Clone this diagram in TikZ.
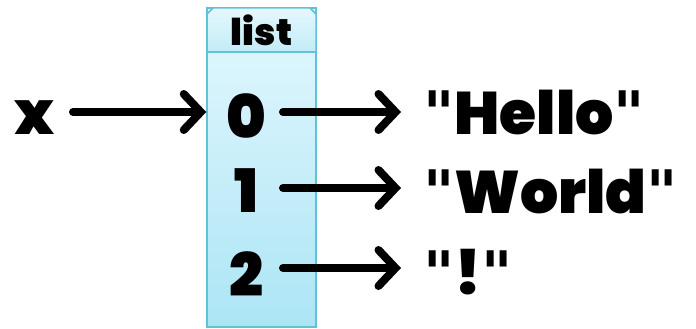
\documentclass[tikz,border=0pt]{standalone}
\usepackage{fontspec}
\setmainfont{Poppins Black}
\newfontfamily\qfont{DejaVu Sans}
\usetikzlibrary{arrows.meta,shapes.misc}
\definecolor{boxline}{HTML}{5FC2D9}
\definecolor{bodytop}{HTML}{E4F8FE}
\definecolor{bodybot}{HTML}{ACE5F5}
\definecolor{headtop}{HTML}{EAFAFE}
\definecolor{headbot}{HTML}{C2ECF7}
\newcommand{\qq}{{\qfont\bfseries\symbol{34}}}
\tikzset{
  big/.style={font=\fontsize{60}{64}\selectfont, inner sep=0pt},
  ptr/.style={line width=8pt, -{Straight Barb[length=17pt,width=36pt,line cap=round]}, line cap=round},
}
\begin{document}
\begin{tikzpicture}[x=1pt,y=-1pt]
\useasboundingbox (0,0) rectangle (696,329);
% box
\node[chamfered rectangle, chamfered rectangle corners={north west,north east},
      chamfered rectangle xsep=6pt, chamfered rectangle ysep=6pt,
      minimum width=109pt, minimum height=319pt, inner sep=0pt,
      top color=bodytop, bottom color=bodybot, draw=boxline, line width=1.5pt]
      (box) at (261.5,167.5) {};
\begin{scope}
  \clip (207,327) -- (207,14) -- (213,8) -- (310,8) -- (316,14) -- (316,327) -- cycle;
  \fill[top color=headtop, bottom color=headbot] (200,0) rectangle (320,52);
\end{scope}
\draw[boxline, line width=1.5pt] (box.west |- 0,52) coordinate (hl) -- (box.east |- 0,52) coordinate (hr);
\draw[boxline, line width=1.5pt] (207,327) -- (207,14) -- (213,8) -- (310,8) -- (316,14) -- (316,327) -- cycle;
\node[font=\fontsize{37}{40}\selectfont, inner sep=0pt] (title) at (261.5,30) {list};
% left variable
\node[big] (x) at (35,118) {x};
% indices
\node[big] (d0) at (246,116) {0};
\node[big] (d1) at (246,191) {1};
\node[big] (d2) at (246,274) {2};
% strings
\node[big, anchor=west] (s0) at (423,113) {\qq Hello\qq};
\node[big, anchor=west] (s1) at (423,192) {\qq World\qq};
\node[big, anchor=west] (s2) at (423,272) {\qq!\qq};
% connectors
\coordinate (xin) at (box.west |- 0,112);
\draw[ptr] ([xshift=38pt,yshift=6pt]x.center) -- (xin);
\draw[ptr] ([xshift=37pt,yshift=4pt]d0.center) -- ([xshift=-22pt,yshift=1pt]s0.west);
\draw[ptr] ([xshift=37pt,yshift=3pt]d1.center) -- ([xshift=-22pt,yshift=4pt]s1.west);
\draw[ptr] ([xshift=37pt,yshift=6pt]d2.center) -- ([xshift=-22pt,yshift=4pt]s2.west);
\end{tikzpicture}
\end{document}
